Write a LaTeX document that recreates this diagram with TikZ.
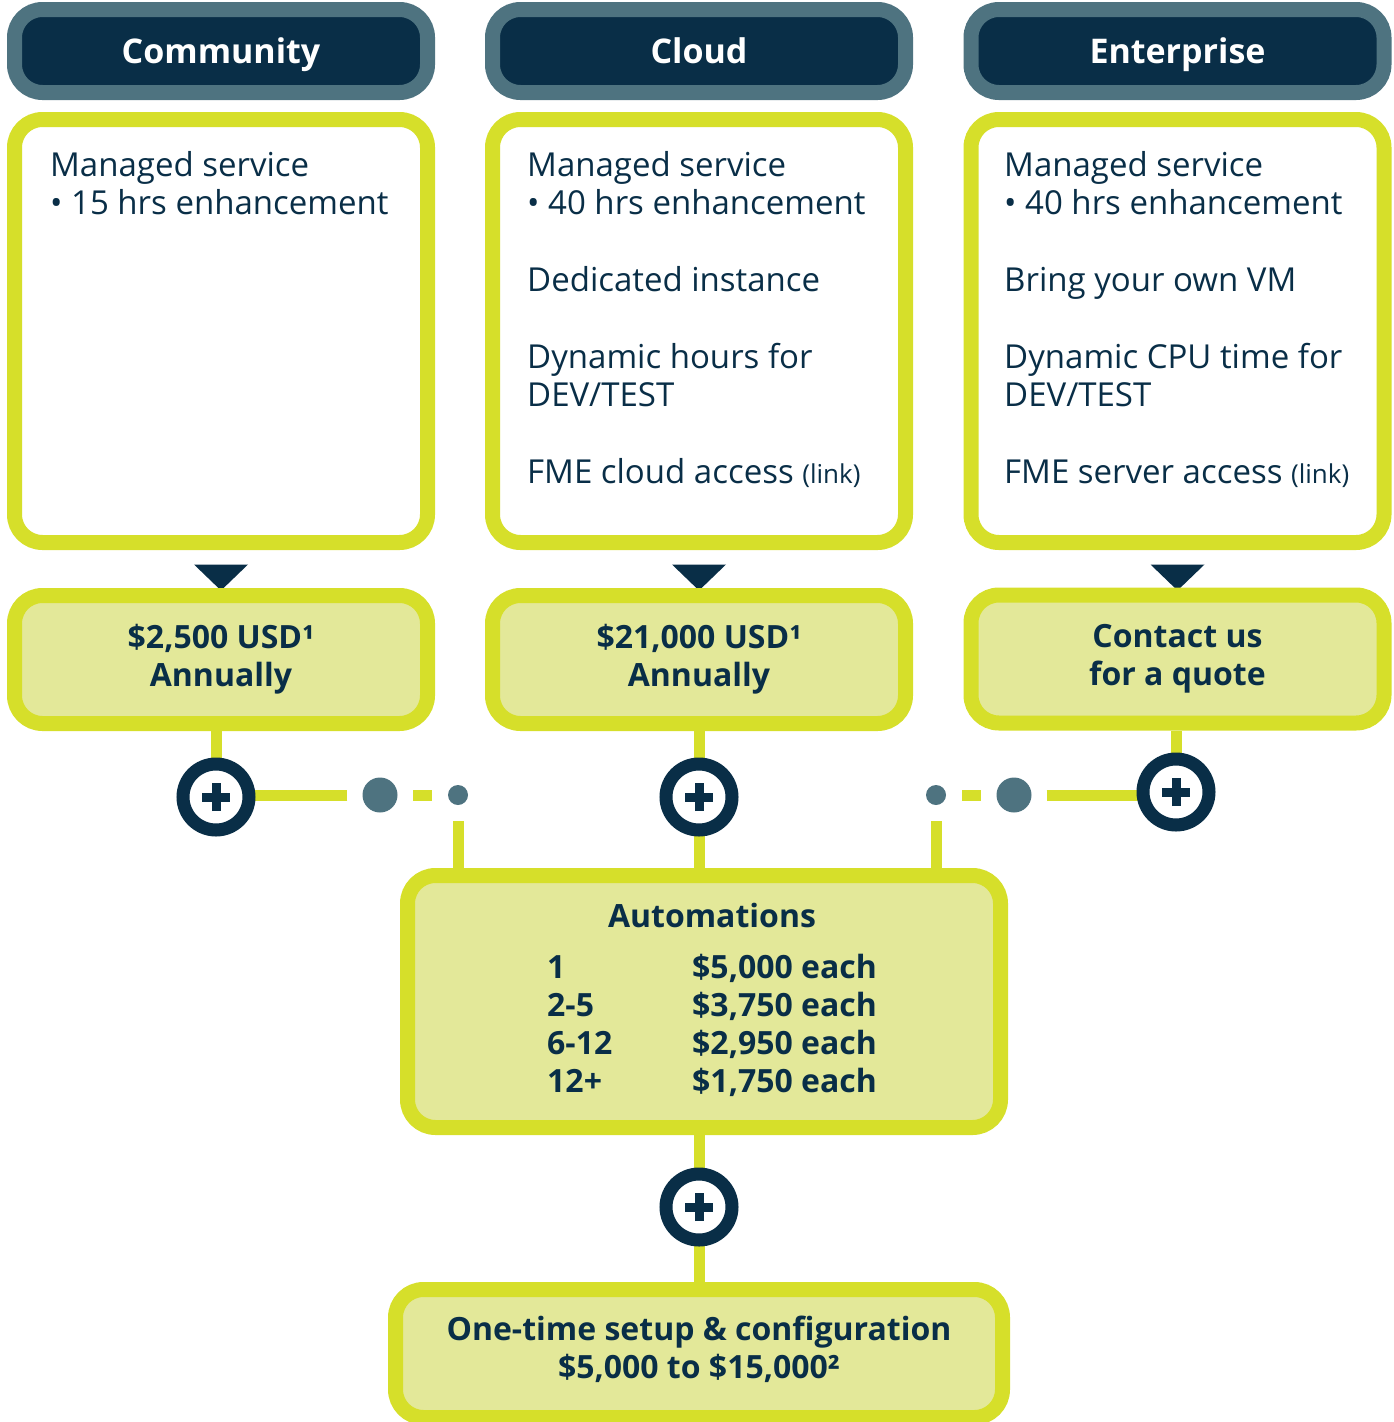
\documentclass[tikz,border=0pt]{standalone}
\usepackage{fontspec}
\setmainfont{Open Sans}
\usetikzlibrary{backgrounds}

\definecolor{navy}{RGB}{9,46,71}
\definecolor{slate}{RGB}{78,115,128}
\definecolor{lime}{RGB}{214,223,42}
\definecolor{pale}{RGB}{227,232,153}

\begin{document}
\begin{tikzpicture}[x=1pt,y=-1pt,
  tier/.style={rectangle,draw=slate,fill=navy,line width=15pt,rounded corners=28pt,minimum width=413pt,minimum height=83pt,text height=26pt,text depth=2pt,text=white,font=\fontsize{34}{40}\selectfont\bfseries},
  feat/.style={rectangle,draw=lime,fill=white,line width=15pt,rounded corners=28pt,minimum width=413pt,minimum height=423pt},
  price/.style={rectangle,draw=lime,fill=pale,line width=15pt,rounded corners=28pt,minimum width=413pt,minimum height=128pt,align=center,text=navy,font=\fontsize{32}{38}\selectfont\bfseries},
  body/.style={anchor=north west,inner sep=0pt,align=left,text=navy,font=\fontsize{33}{38}\selectfont},
  row/.style={anchor=base west,inner sep=0pt,text=navy,font=\fontsize{32}{38}\selectfont\bfseries},
  plus/.style={circle,draw=navy,fill=white,line width=13pt,minimum size=66pt,inner sep=0pt},
  bigdot/.style={circle,fill=slate,minimum size=35pt,inner sep=0pt},
  smalldot/.style={circle,fill=slate,minimum size=20pt,inner sep=0pt},
  link/.style={draw=lime,line width=11pt}]
\useasboundingbox (0,0) rectangle (1394,1422);

% tiers
\node[tier] (hcomm) at (221,51) {Community};
\node[tier] (hcloud) at (699,51) {Cloud};
\node[tier] (hent) at (1177.5,51) {Enterprise};

% what each tier gives
\node[feat] (fcomm) at (221,331) {};
\node[feat] (fcloud) at (699,331) {};
\node[feat] (fent) at (1177.5,331) {};
\node[body] (tcomm) at (50,151.5) {Managed service\\ • 15 hrs enhancement};
\node[body] (tcloud) at (527,151.5) {Managed service\\ • 40 hrs enhancement\\[39pt]
  Dedicated instance\\[39pt] Dynamic hours for\\ DEV/TEST\\[39pt]
  FME cloud access {\fontsize{26}{38}\selectfont(link)}};
\node[body] (tent) at (1004,151.5) {Managed service\\ • 40 hrs enhancement\\[39pt]
  Bring your own VM\\[39pt] Dynamic CPU time for\\ DEV/TEST\\[39pt]
  FME server access {\fontsize{26}{38}\selectfont(link)}};
\foreach \f in {fcomm,fcloud,fent}
  \fill[navy] ([xshift=-27pt,yshift=-14.5pt]\f.south) -- ++(54,0) -- ++(-27,26) -- cycle;

% prices
\node[price] (pricecomm) at (221,659.5) {\$2,500 USD¹\\ Annually};
\node[price] (pricecloud) at (699,659.5) {\$21,000 USD¹\\ Annually};
\node[price] (priceent) at (1177.5,659) {Contact us\\ for a quote};

% add-ons
\node[plus] (pcomm) at (216,797) {};
\node[plus] (pcloud) at (699,797) {};
\node[plus] (pent) at (1176,792) {};
\node[plus] (pbot) at (699,1207) {};
\foreach \p in {pcomm,pcloud,pent,pbot}
  \draw[navy,line width=9pt] ([xshift=-14pt]\p.center) -- ([xshift=14pt]\p.center)
    ([yshift=-14pt]\p.center) -- ([yshift=14pt]\p.center);
\node[bigdot] (dc1) at (380,795) {};
\node[smalldot] (dc2) at (458,795) {};
\node[smalldot] (de2) at (936,795) {};
\node[bigdot] (de1) at (1014,795) {};

\node[price,minimum width=593pt,minimum height=252pt] (auto) at (704,1001.5) {};
\node[text=navy,font=\fontsize{32}{38}\selectfont\bfseries] (autotitle) at (712,915) {Automations};
\foreach \n/\c [count=\i] in {1/{\$5,000 each},2-5/{\$3,750 each},6-12/{\$2,950 each},12+/{\$1,750 each}} {
  \node[row] (an\i) at (547,{978+38*(\i-1)}) {\n};
  \node[row] (ac\i) at (692,{978+38*(\i-1)}) {\c};
}

\node[price,minimum width=607pt] (setup) at (699,1353.5) {};
\node[text=navy,align=center,font=\fontsize{32}{38}\selectfont\bfseries] (setuptext) at (699,1349) {One-time setup \& configuration\\ \$5,000 to \$15,000²};

\begin{scope}[on background layer]
\draw[link] (pcomm) -- (pcomm |- pricecomm.south);
\draw[link] (pcloud |- pricecloud.south) -- (pcloud |- auto.north);
\draw[link] (pent) -- (pent |- priceent.south);
\draw[link,shorten <=15pt] (dc1) -- (dc1 -| pcomm);
\draw[link,shorten <=15.5pt,shorten >=15.5pt] (dc1) -- (dc2);
\draw[link,shorten <=16pt] (dc2) -- (dc2 |- auto.north);
\draw[link,shorten <=15pt] (de1) -- (de1 -| pent);
\draw[link,shorten <=15.5pt,shorten >=15.5pt] (de1) -- (de2);
\draw[link,shorten <=16pt] (de2) -- (de2 |- auto.north);
\draw[link] (pbot |- auto.south) -- (pbot |- setup.north);
\end{scope}
\end{tikzpicture}
\end{document}
